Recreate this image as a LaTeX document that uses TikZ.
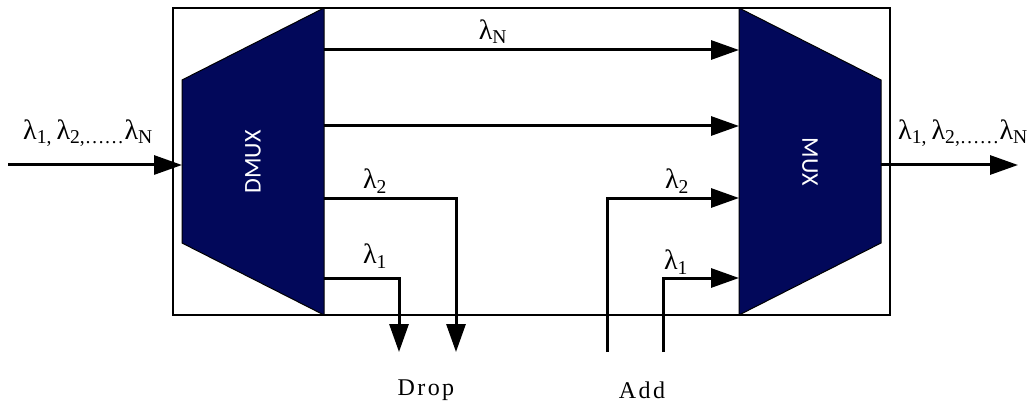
\documentclass[tikz,border=0pt]{standalone}
\usepackage{fontspec}
\setmainfont{Liberation Serif}
\newfontfamily\boxfont{Carlito}
\newfontfamily\tagfont[LetterSpace=10]{Liberation Serif}
\usetikzlibrary{arrows.meta,calc,positioning}
\definecolor{muxnavy}{RGB}{2,8,90}

\begin{document}
\begin{tikzpicture}[x=1pt,y=-1pt,
  every node/.style={inner sep=1pt},
  sig/.style={line width=3pt,-{Triangle[length=28pt,width=19pt]}},
  wire/.style={line width=3pt},
  muxbody/.style={draw=black,line width=1pt,fill=muxnavy},
  lam/.style={font=\fontsize{28}{30}\selectfont},
  tag/.style={font=\tagfont\fontsize{24}{26}\selectfont},
  boxtext/.style={font=\boxfont\fontsize{24}{26}\selectfont,text=white}]
  \useasboundingbox (0,0) rectangle (1032,406);
  % outer frame
  \draw[line width=1.2pt] (173,8) rectangle (890,315);
  % demultiplexer and multiplexer
  \draw[muxbody] (182,80) -- (324,8) -- (324,315) -- (182,243) -- cycle;
  \draw[muxbody] (739,8) -- (881,80) -- (881,243) -- (739,315) -- cycle;
  \node[boxtext,rotate=90] (dmux) at (253,162) {DMUX};
  \node[boxtext,rotate=-90] (mux) at (810,162) {MUX};
  % ports
  \coordinate (in) at (8,165);
  \coordinate (dmuxin) at (182,165);
  \coordinate (muxout) at (881,165);
  \coordinate (out) at (1018,165);
  \coordinate (dN) at (324,50);
  \coordinate (mN) at (739,50);
  \coordinate (dM) at (324,126);
  \coordinate (mM) at (739,126);
  \coordinate (d2) at (324,198);
  \coordinate (d1) at (324,278);
  \coordinate (m2) at (739,198);
  \coordinate (m1) at (739,278);
  \coordinate (drop2) at (456,352);
  \coordinate (drop1) at (399,352);
  \coordinate (add2) at (607,352);
  \coordinate (add1) at (663,352);
  % channels
  \draw[sig] (in) -- (dmuxin);
  \draw[sig] (muxout) -- (out);
  \draw[sig] (dN) -- (mN);
  \draw[sig] (dM) -- (mM);
  \draw[sig] (d2) -| (drop2);
  \draw[sig] (d1) -| (drop1);
  \draw[sig] (add2) |- (m2);
  \draw[sig] (add1) |- (m1);
  % labels
  \node[lam] (inlab) at (88,133) {λ\textsubscript{1,}\,λ\textsubscript{2,……}λ\textsubscript{N}};
  \node[lam] (outlab) at (963,133) {λ\textsubscript{1,}\,λ\textsubscript{2,……}λ\textsubscript{N}};
  \node[lam] (labN) at (493,32) {λ\textsubscript{N}};
  \node[lam] (labd2) at (375,181) {λ\textsubscript{2}};
  \node[lam] (labd1) at (375,256) {λ\textsubscript{1}};
  \node[lam] (laba2) at (677,181) {λ\textsubscript{2}};
  \node[lam] (laba1) at (676,262) {λ\textsubscript{1}};
  \node[tag] (drop) at (426,390) {Drop};
  \node[tag] (add) at (642,390) {Add};
\end{tikzpicture}
\end{document}
